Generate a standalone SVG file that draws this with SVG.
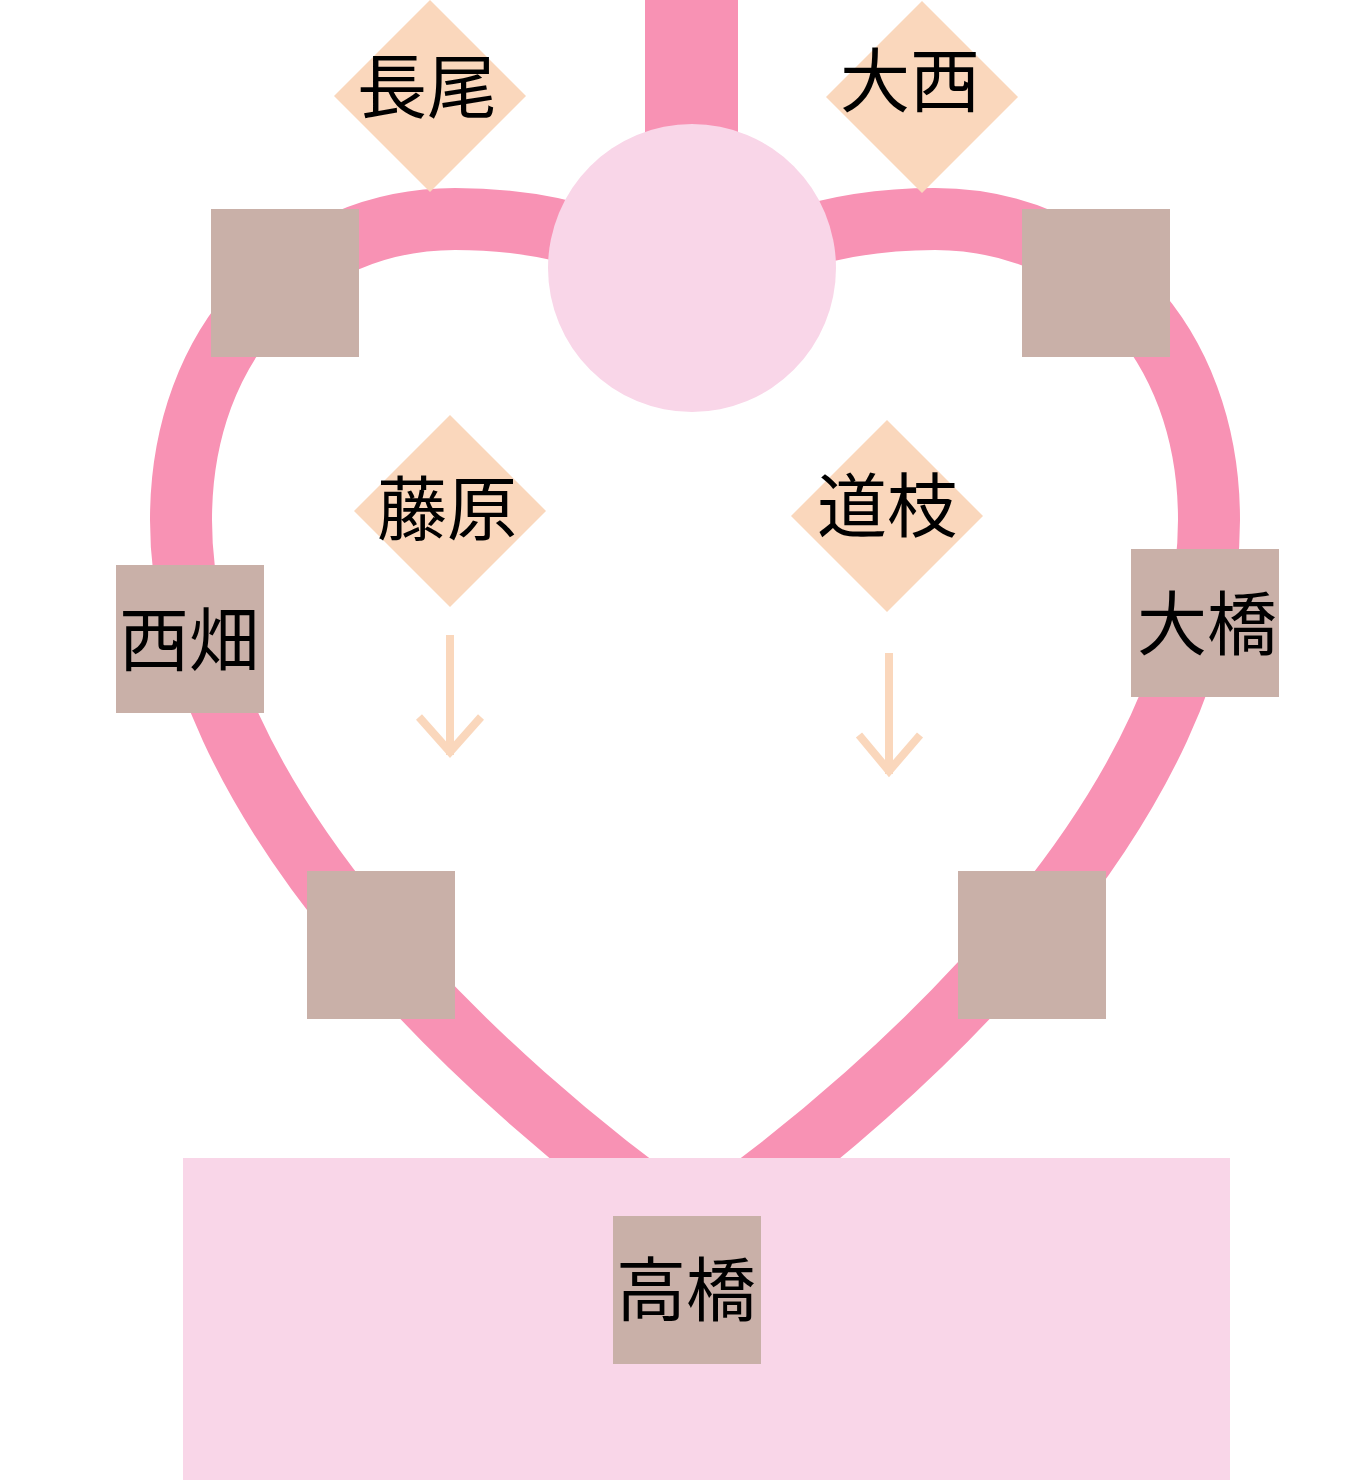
<svg xmlns="http://www.w3.org/2000/svg" width="1350" height="1480" viewBox="0 0 1350 1480">
<style>
.sq{fill:#c9b0a8}
.dm{fill:#fad7bc}
.lbl{font-family:"Noto Sans CJK JP","Noto Sans CJK SC",sans-serif;font-size:70px;fill:#000;text-anchor:middle;dominant-baseline:central}
.heart{fill:none;stroke:#f892b4;stroke-width:62}
.arr{fill:none;stroke:#fad7bc;stroke-width:8}
</style>
<rect width="1350" height="1480" fill="#ffffff"/>
<g id="connectors">
<path class="heart" d="M695 300 C650 250 560 219 455 219 C300 219 181 340 181 520 C181 800 480 1080 695 1230 C910 1080 1209 800 1209 520 C1209 340 1090 219 935 219 C830 219 740 250 695 300 Z"/>
<rect x="645" y="0" width="93" height="140" fill="#f892b4"/>
<path class="arr" d="M450 635 V755 M419 717 L450 752 L481 717"/>
<path class="arr" d="M889 653 V774 M859 735 L889 771 L920 735"/>
</g>
<g id="hub"><circle cx="692" cy="268" r="144" fill="#f9d6e8"/></g>
<g id="base"><rect x="183" y="1158" width="1047" height="322" fill="#f9d6e8"/></g>
<g id="sq-tl"><rect class="sq" x="211" y="209" width="148" height="148"/></g>
<g id="sq-tr"><rect class="sq" x="1022" y="209" width="148" height="148"/></g>
<g id="sq-bl"><rect class="sq" x="307" y="871" width="148" height="148"/></g>
<g id="sq-br"><rect class="sq" x="958" y="871" width="148" height="148"/></g>
<g id="nishihata"><rect class="sq" x="116" y="565" width="148" height="148"/><text class="lbl" x="189" y="635">西畑</text></g>
<g id="ohashi"><rect class="sq" x="1131" y="549" width="148" height="148"/><text class="lbl" x="1207" y="619">大橋</text></g>
<g id="takahashi"><rect class="sq" x="613" y="1216" width="148" height="148"/><text class="lbl" x="686" y="1285">高橋</text></g>
<g id="nagao"><polygon class="dm" points="430,0 526,96 430,192 334,96"/><text class="lbl" x="427" y="82">長尾</text></g>
<g id="onishi"><polygon class="dm" points="922,1 1018,97 922,193 826,97"/><text class="lbl" x="910" y="76">大西</text></g>
<g id="fujiwara"><polygon class="dm" points="450,415 546,511 450,607 354,511"/><text class="lbl" x="447" y="504">藤原</text></g>
<g id="michieda"><polygon class="dm" points="887,420 983,516 887,612 791,516"/><text class="lbl" x="887" y="501">道枝</text></g>
</svg>
